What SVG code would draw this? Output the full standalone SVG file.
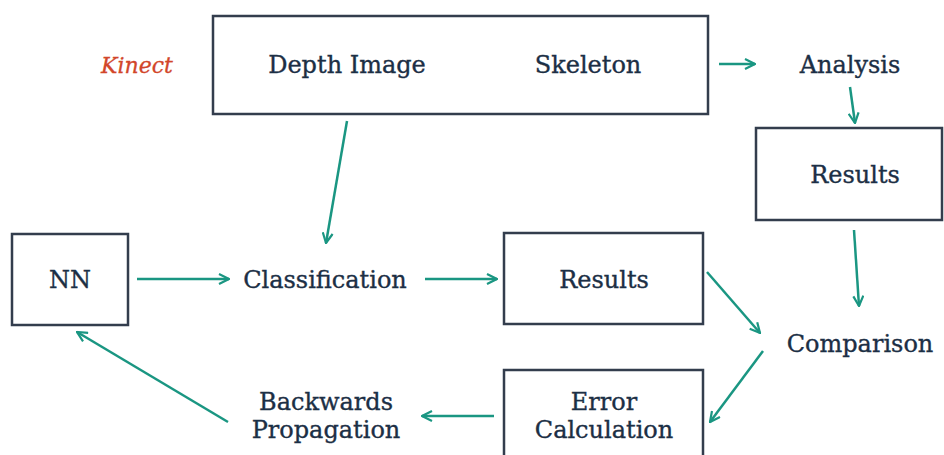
<svg xmlns="http://www.w3.org/2000/svg" width="944" height="455" viewBox="0 0 944 455">
  <defs>
    <style>
      .box { fill: #ffffff; stroke: #333d4d; stroke-width: 2.5; }
      .lbl { font-family: "DejaVu Serif", "Liberation Serif", serif; font-size: 24px; fill: #1c2f45; stroke: #1c2f45; stroke-width: 0.35; text-anchor: middle; }
      .src { font-family: "DejaVu Serif", "Liberation Serif", serif; font-size: 22px; font-style: italic; fill: #d2462a; stroke: #d2462a; stroke-width: 0.3; text-anchor: middle; }
      .link { fill: none; stroke: #1a9682; stroke-width: 2.5; marker-end: url(#head); }
    </style>
    <marker id="head" viewBox="0 0 12 12" refX="11" refY="6" markerWidth="12" markerHeight="12" markerUnits="userSpaceOnUse" orient="auto">
      <path d="M1,1 L11,6 L1,11" fill="none" stroke="#1a9682" stroke-width="2.2" stroke-linejoin="miter"/>
    </marker>
  </defs>
  <rect width="944" height="455" fill="#ffffff"/>

  <g id="kinect">
    <text class="src" x="137" y="73">Kinect</text>
  </g>

  <g id="sensor">
    <rect class="box" x="213" y="16" width="495" height="98"/>
    <text class="lbl" x="347" y="73">Depth Image</text>
    <text class="lbl" x="588" y="73">Skeleton</text>
  </g>

  <g id="analysis">
    <text class="lbl" x="850" y="73">Analysis</text>
  </g>

  <g id="results-ref">
    <rect class="box" x="756" y="128" width="186" height="92"/>
    <text class="lbl" x="855" y="183">Results</text>
  </g>

  <g id="nn">
    <rect class="box" x="12" y="234" width="116" height="91"/>
    <text class="lbl" x="70" y="288">NN</text>
  </g>

  <g id="classification">
    <text class="lbl" x="325" y="288">Classification</text>
  </g>

  <g id="results-nn">
    <rect class="box" x="504" y="233" width="199" height="91"/>
    <text class="lbl" x="604" y="288">Results</text>
  </g>

  <g id="comparison">
    <text class="lbl" x="860" y="352">Comparison</text>
  </g>

  <g id="error">
    <rect class="box" x="504" y="370" width="199" height="95"/>
    <text class="lbl" x="604" y="410">Error</text>
    <text class="lbl" x="604" y="438">Calculation</text>
  </g>

  <g id="backprop">
    <text class="lbl" x="326" y="410">Backwards</text>
    <text class="lbl" x="326" y="438">Propagation</text>
  </g>

  <g id="connectors">
    <line class="link" x1="719" y1="64" x2="755" y2="64"/>
    <line class="link" x1="850" y1="87" x2="855" y2="123"/>
    <line class="link" x1="347" y1="121" x2="326" y2="243"/>
    <line class="link" x1="137" y1="279" x2="229" y2="279"/>
    <line class="link" x1="425" y1="279" x2="497" y2="279"/>
    <line class="link" x1="707" y1="272" x2="760" y2="333"/>
    <line class="link" x1="854" y1="230" x2="859" y2="306"/>
    <line class="link" x1="763" y1="351" x2="710" y2="422"/>
    <line class="link" x1="494" y1="416" x2="422" y2="416"/>
    <line class="link" x1="228" y1="422" x2="77" y2="332"/>
  </g>
</svg>
